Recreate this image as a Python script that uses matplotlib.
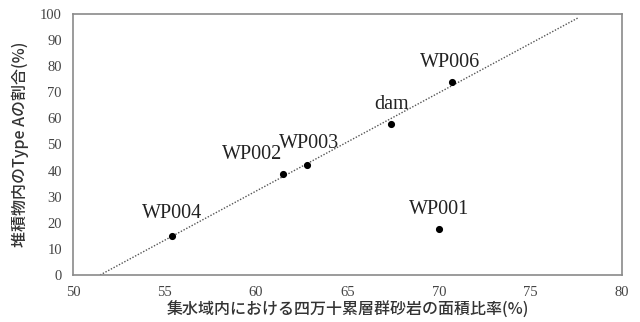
import matplotlib
matplotlib.use("Agg")
import matplotlib.pyplot as plt
import numpy as np

# sandstone area ratio (%) vs. share of Type A in sediment (%)
sites = ["WP004", "WP002", "WP003", "dam", "WP006", "WP001"]
area_ratio = [55.4, 61.5, 62.8, 67.4, 70.7, 70.0]
type_a_share = [15.0, 38.7, 42.0, 58.0, 74.0, 17.5]
# WP001 is left out of the trend line
fit_sites = ["WP004", "WP002", "WP003", "dam", "WP006"]
trend_x_end = 77.6

# label offsets in points (dx, dy, ha)
label_pos = {
    "WP004": (0, 16, "center"),
    "WP002": (-1, 7, "right"),
    "WP003": (1, 16, "center"),
    "dam": (0, 14, "center"),
    "WP006": (-1, 14, "center"),
    "WP001": (0, 14, "center"),
}

SERIF = ["Liberation Serif", "DejaVu Serif"]
CJK = ["Noto Sans CJK JP", "DejaVu Sans"]

fig = plt.figure(figsize=(6.4, 3.22), dpi=100)
ax = fig.add_axes([0.114, 0.146, 0.858, 0.811])

# linear trend through the fitted sites
fx = [area_ratio[sites.index(s)] for s in fit_sites]
fy = [type_a_share[sites.index(s)] for s in fit_sites]
slope, intercept = np.polyfit(fx, fy, 1)
x0 = -intercept / slope
tx = np.array([x0, trend_x_end])
ax.plot(tx, slope * tx + intercept, linestyle=(0, (1, 1.2)), color="#555555", lw=1.0, zorder=1)

ax.scatter(area_ratio, type_a_share, s=17, color="black", zorder=3)

for name, x, y in zip(sites, area_ratio, type_a_share):
    dx, dy, ha = label_pos[name]
    ax.annotate(name, (x, y), xytext=(dx, dy), textcoords="offset points",
                ha=ha, va="bottom" if ha == "right" else "center",
                fontsize=14.5, family=SERIF, color="#222222")

ax.set_xlim(50, 80)
ax.set_ylim(0, 100)
ax.set_xticks(np.arange(50, 81, 5))
ax.set_yticks(np.arange(0, 101, 10))
ax.tick_params(length=0, pad=8, labelsize=10.5, labelcolor="#444444")
for lab in ax.get_xticklabels() + ax.get_yticklabels():
    lab.set_family(SERIF)
for sp in ax.spines.values():
    sp.set_color("#8a8a8a")
    sp.set_linewidth(1.2)

ax.set_xlabel("集水域内における四万十累層群砂岩の面積比率(%)", family=CJK,
              fontsize=11.5, fontweight="medium", color="#333333", labelpad=2)
ax.set_ylabel("堆積物内のType Aの割合(%)", family=CJK,
              fontsize=11.5, fontweight="medium", color="#333333", labelpad=8)

fig.savefig("out.png", dpi=100)
